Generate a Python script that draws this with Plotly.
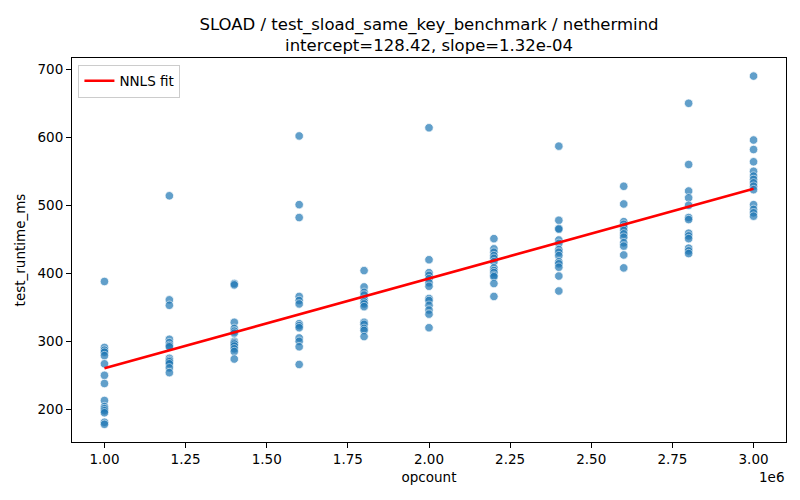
import plotly.graph_objects as go

# runtime samples (ms) per opcount level
opcount_levels = [1.0e6, 1.2e6, 1.4e6, 1.6e6, 1.8e6, 2.0e6, 2.2e6, 2.4e6, 2.6e6, 2.8e6, 3.0e6]
runtime_1_0 = [388, 291, 287, 284, 279, 267, 250, 238, 213, 204, 201, 198, 195, 181, 178]
runtime_1_2 = [514, 361, 353, 303, 298, 294, 292, 275, 272, 270, 267, 261, 254]
runtime_1_4 = [385, 383, 328, 319, 315, 312, 300, 298, 296, 293, 289, 285, 274]
runtime_1_6 = [602, 501, 482, 366, 360, 355, 326, 323, 320, 305, 300, 292, 266]
runtime_1_8 = [404, 380, 372, 368, 362, 358, 355, 351, 328, 325, 319, 316, 307]
runtime_2_0 = [614, 420, 401, 397, 392, 386, 381, 363, 360, 353, 346, 340, 320]
runtime_2_2 = [451, 436, 431, 426, 422, 417, 408, 404, 401, 397, 395, 385, 366]
runtime_2_4 = [587, 478, 466, 465, 449, 444, 435, 431, 426, 417, 414, 409, 396, 374]
runtime_2_6 = [528, 502, 476, 472, 468, 463, 458, 453, 445, 440, 427, 408]
runtime_2_8 = [650, 560, 521, 511, 500, 482, 479, 459, 455, 451, 437, 433, 429]
runtime_3_0 = [690, 596, 582, 564, 550, 543, 538, 533, 528, 523, 501, 494, 489, 484]

runtimes = [runtime_1_0, runtime_1_2, runtime_1_4, runtime_1_6, runtime_1_8, runtime_2_0,
            runtime_2_2, runtime_2_4, runtime_2_6, runtime_2_8, runtime_3_0]

intercept = 128.42
slope = 1.32e-04

x_ticks = [1.0e6, 1.25e6, 1.5e6, 1.75e6, 2.0e6, 2.25e6, 2.5e6, 2.75e6, 3.0e6]
x_tick_text = ["1.00", "1.25", "1.50", "1.75", "2.00", "2.25", "2.50", "2.75", "3.00"]
y_ticks = [200, 300, 400, 500, 600, 700]

xs, ys = [], []
for level, vals in zip(opcount_levels, runtimes):
    xs += [level] * len(vals)
    ys += vals

fit_x = [min(xs), max(xs)]
fit_y = [intercept + slope * v for v in fit_x]

fig = go.Figure()
fig.add_trace(go.Scatter(
    x=xs, y=ys, mode="markers", showlegend=False,
    marker=dict(color="#1f77b4", size=8.5, opacity=0.7,
                line=dict(color="white", width=0.75)),
))
fig.add_trace(go.Scatter(
    x=fit_x, y=fit_y, mode="lines", name="NNLS fit",
    line=dict(color="red", width=2.6),
))

axis_common = dict(
    showline=True, linecolor="black", linewidth=1, mirror=True,
    ticks="outside", ticklen=5, tickcolor="black", tickwidth=1,
    showgrid=False, zeroline=False, automargin=False,
    tickfont=dict(size=13.5, color="black"),
)

# page body adds an 8px offset, so the figure is sized 792x492
fig.update_layout(
    width=792, height=492,
    margin=dict(l=64, r=14, t=50, b=58),
    paper_bgcolor="white", plot_bgcolor="white",
    font=dict(family="DejaVu Sans", color="black"),
    title=dict(
        text="SLOAD / test_sload_same_key_benchmark / nethermind<br>intercept=128.42, slope=1.32e-04",
        x=0.5316, xanchor="center", y=0.956, yanchor="top",
        font=dict(size=16.5),
    ),
    xaxis=dict(axis_common, range=[0.9e6, 3.1e6], tickvals=x_ticks, ticktext=x_tick_text,
               title=dict(text="opcount", font=dict(size=13.5), standoff=6)),
    yaxis=dict(axis_common, range=[152, 716.6], tickvals=y_ticks,
               title=dict(text="test_runtime_ms", font=dict(size=13.5), standoff=8)),
    legend=dict(x=0.009, y=0.983, xanchor="left", yanchor="top",
                bgcolor="rgba(255,255,255,0.8)", bordercolor="#cccccc", borderwidth=1,
                font=dict(size=13.5)),
    annotations=[dict(text="1e6", xref="paper", yref="paper", x=1.0, y=-0.091,
                      xanchor="right", yanchor="middle", showarrow=False,
                      font=dict(size=13.5))],
)

fig.write_html("out.html")
